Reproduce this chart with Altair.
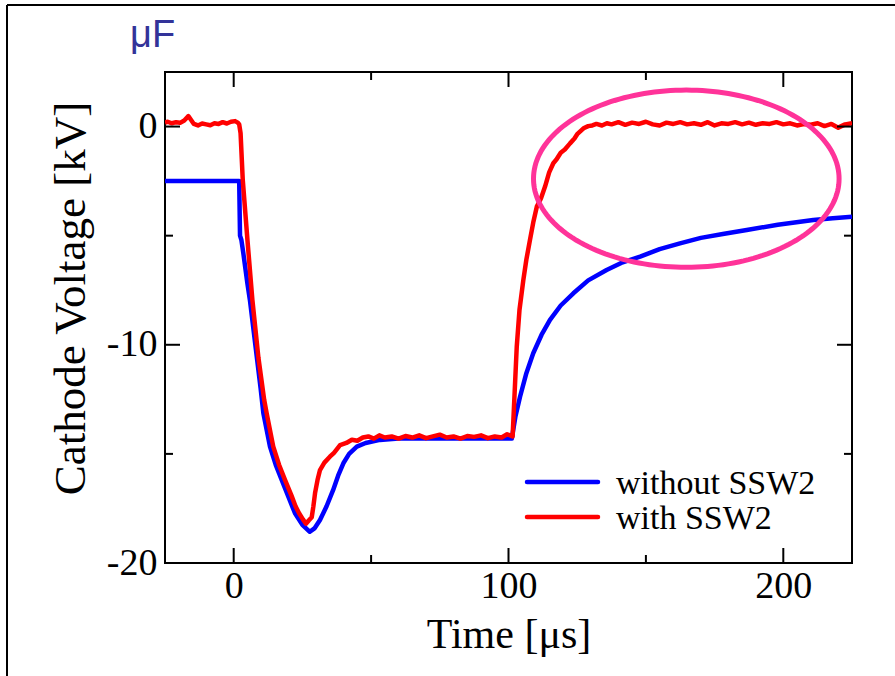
import altair as alt
import pandas as pd
import numpy as np

# ---------------- data ----------------
blue_t = [-25, -10, 2.0, 2.3, 2.8, 3.5, 5.0, 5.9, 8.1, 9.8, 10.8, 13.2, 15.3, 17.5, 20.0, 22.3,
          25.0, 27.7, 29.5, 31.4, 33.8, 36.2, 38.0, 39.9, 42.0, 44.8, 48.0, 53.2, 60.0, 80.0,
          101.2, 102.5, 104.2, 106.5, 109.0, 112.0, 115.1, 119.0, 123.6, 129.0, 135.7, 141.0,
          147.9, 155.0, 162.4, 170.0, 178.0, 186.7, 198.0, 210.9, 218.0, 225.0]
blue_v = [-2.5, -2.5, -2.5, -5.0, -5.2, -5.8, -7.2, -7.95, -10.24, -12.0, -13.14, -14.67, -15.5,
          -16.2, -17.0, -17.72, -18.25, -18.57, -18.4, -18.03, -17.4, -16.65, -16.0, -15.43,
          -15.0, -14.67, -14.5, -14.36, -14.3, -14.3,
          -14.3, -13.3, -12.38, -11.3, -10.39, -9.55, -8.86, -8.2, -7.64, -7.05, -6.57, -6.25,
          -5.96, -5.62, -5.35, -5.1, -4.92, -4.74, -4.5, -4.28, -4.2, -4.13]

red_t = [-25, -24, -22.5, -21, -19.5, -18, -16.5, -15.5, -14.5, -13, -11.5, -10, -8.5, -7, -5.5,
         -4, -2.5, -1, 0.5, 1.5, 2.0,
         2.5, 3.3, 5.0, 6.8, 9.0, 11.1, 12.0, 14.4, 16.5, 18.7, 21.0, 22.5, 23.8, 25.2, 26.3,
         27.3, 28.4, 29.0, 29.6, 30.5, 31.4, 33.0, 35.0, 36.5, 38.7, 41.0, 43.0, 45.0, 47.0,
         49, 51, 53, 55, 57.5, 60, 62.5, 65, 67.5, 70, 72.5, 75, 77.5, 80, 82.5, 85, 87.5, 90,
         92.5, 95, 97.5, 99.5, 101.5,
         103, 104, 105.4, 106.5, 107.8, 109, 110.3, 111.8, 113.3, 114.8, 116.3, 117.5, 119,
         120.5, 122.4, 124, 125, 126.3, 127.3, 129, 130.5, 132, 134, 135.8,
         137.5, 140, 142.5, 145, 147.5, 150, 152.5, 155, 157.5, 160, 162.5, 165, 167.5, 170,
         172.5, 175, 177.5, 180, 182.5, 185, 187.5, 190, 192.5, 195, 197.5, 200, 202.5, 205,
         207.5, 210, 212.5, 215, 217.5, 220, 222.5, 225]
red_v = [0.18, 0.22, 0.15, 0.2, 0.17, 0.28, 0.48, 0.3, 0.12, 0.05, 0.14, 0.1, 0.06, 0.15, 0.12,
         0.2, 0.14, 0.22, 0.25, 0.18, 0.1,
         -0.3, -2.45, -5.2, -7.95, -10.6, -12.53, -13.14, -14.67, -15.5, -16.2, -16.9, -17.4,
         -17.72, -18.0, -18.2, -18.05, -17.9, -17.4, -16.8, -16.2, -15.74, -15.4, -15.13, -14.95,
         -14.6, -14.5, -14.35, -14.4, -14.25,
         -14.2, -14.3, -14.15, -14.25, -14.2, -14.3, -14.18, -14.25, -14.15, -14.28, -14.2,
         -14.12, -14.25, -14.2, -14.3, -14.18, -14.22, -14.15, -14.28, -14.2, -14.25, -14.1,
         -14.2,
         -10.09, -8.4, -7.03, -6.1, -5.2, -4.4, -3.67, -3.3, -2.75, -2.1, -1.68, -1.5, -1.2,
         -1.05, -0.77, -0.55, -0.35, -0.2, -0.08, 0.02, 0.05, 0.12, 0.05, 0.15,
         0.1, 0.2, 0.08, 0.18, 0.12, 0.22, 0.1, 0.05, 0.18, 0.12, 0.2, 0.1, 0.15, 0.08, 0.2,
         0.05, 0.15, 0.12, 0.2, 0.1, 0.18, 0.08, 0.15, 0.12, 0.2, 0.1, 0.15, 0.05, 0.12, 0.08,
         0.15, 0.02, 0.12, -0.05, 0.1, 0.15]

series_names = ["without SSW2", "with SSW2"]
series_colors = ["#0000FF", "#FF0000"]

x_major = [0, 100, 200]
x_minor = [50, 150]
y_major = [0, -10, -20]
y_minor = [-5, -15]

# highlight ellipse (centre and radii in data units)
ell_cx, ell_cy, ell_rx, ell_ry = 164.7, -2.39, 55.6, 4.06

# ---------------- layout ----------------
W, H = 687, 491
PAD_L, PAD_T = 165, 72
MAJ, MIN = 15, 8
SERIF = "Liberation Serif"

xs = alt.Scale(domain=[-25, 225], nice=False, zero=False)
ys = alt.Scale(domain=[-20, 2.5], nice=False, zero=False)

x_axis = alt.Axis(values=x_major, ticks=False, domain=False, grid=False,
                  labelFont=SERIF, labelFontSize=38, labelColor="black",
                  labelPadding=4, title="Time [μs]", titleFont=SERIF,
                  titleFontSize=42, titleFontWeight="normal", titleColor="black",
                  titlePadding=9, labelExpr="'' + datum.value")
y_axis = alt.Axis(values=y_major, ticks=False, domain=False, grid=False,
                  labelFont=SERIF, labelFontSize=38, labelColor="black",
                  labelPadding=8, title="Cathode Voltage [kV]", titleFont=SERIF,
                  titleFontSize=45, titleFontWeight="normal", titleColor="black",
                  titleBaseline="alphabetic", titleX=-81, titleY=226,
                  labelExpr="'' + datum.value")

X = lambda f: alt.X(f, scale=xs, axis=x_axis, title="Time [μs]")
Y = lambda f: alt.Y(f, scale=ys, axis=y_axis, title="Cathode Voltage [kV]")

blue_df = pd.DataFrame({"t": blue_t, "v": blue_v})
red_df = pd.DataFrame({"t": red_t, "v": red_v})

blue = alt.Chart(blue_df).mark_line(color=series_colors[0], strokeWidth=4.5, clip=True,
                                    strokeJoin="round").encode(
    x=X("t:Q"), y=Y("v:Q"), order="t:Q")

red = alt.Chart(red_df).mark_line(color=series_colors[1], strokeWidth=4.5, clip=True,
                                  strokeJoin="round").encode(
    x=X("t:Q"), y=Y("v:Q"), order="t:Q")

ang = np.linspace(0, 2 * np.pi, 181)
ell_df = pd.DataFrame({"t": ell_cx + ell_rx * np.cos(ang),
                       "v": ell_cy + ell_ry * np.sin(ang),
                       "i": np.arange(len(ang))})
ellipse = alt.Chart(ell_df).mark_line(color="#FF3399", strokeWidth=5).encode(
    x=X("t:Q"), y=Y("v:Q"), order="i:Q")

# ticks drawn inside the frame
def xticks(vals, length):
    df = pd.DataFrame({"t": vals})
    bot = alt.Chart(df).mark_rule(color="black", strokeWidth=2).encode(
        x=X("t:Q"), y=alt.value(H), y2=alt.value(H - length))
    top = alt.Chart(df).mark_rule(color="black", strokeWidth=2).encode(
        x=X("t:Q"), y=alt.value(0), y2=alt.value(length))
    return [bot, top]

def yticks(vals, length):
    df = pd.DataFrame({"v": vals})
    lef = alt.Chart(df).mark_rule(color="black", strokeWidth=2).encode(
        y=Y("v:Q"), x=alt.value(0), x2=alt.value(length))
    rig = alt.Chart(df).mark_rule(color="black", strokeWidth=2).encode(
        y=Y("v:Q"), x=alt.value(W), x2=alt.value(W - length))
    return [lef, rig]

tick_layers = xticks(x_major, MAJ) + xticks(x_minor, MIN) + yticks(y_major, MAJ) + yticks(y_minor, MIN)

# legend (manual, inside plot)
leg_layers = []
for k, (name, col) in enumerate(zip(series_names, series_colors)):
    yy = 410 + 35 * k
    d = pd.DataFrame({"label": [name]})
    leg_layers.append(alt.Chart(d).mark_rule(color=col, strokeWidth=4.5, strokeCap="round").encode(
        x=alt.value(362), x2=alt.value(433), y=alt.value(yy)))
    leg_layers.append(alt.Chart(d).mark_text(align="left", baseline="alphabetic", font=SERIF,
                                             fontSize=34, color="black").encode(
        x=alt.value(451), y=alt.value(yy + 12), text="label:N"))

# outer frame (top and left edges) and the unit note
frame_df = pd.DataFrame({"k": [0]})
frame_left = alt.Chart(frame_df).mark_rule(color="black", strokeWidth=2).encode(
    x=alt.value(7 - PAD_L), y=alt.value(5 - PAD_T), y2=alt.value(H + 200))
frame_top = alt.Chart(frame_df).mark_rule(color="black", strokeWidth=2).encode(
    x=alt.value(7 - PAD_L), x2=alt.value(W + 100), y=alt.value(5 - PAD_T))
note = alt.Chart(pd.DataFrame({"txt": ["μF"]})).mark_text(
    align="left", baseline="alphabetic", font="Liberation Sans", fontSize=38,
    color="#333399").encode(x=alt.value(130 - PAD_L), y=alt.value(47 - PAD_T), text="txt:N")

chart = alt.layer(blue, red, ellipse, *tick_layers, *leg_layers, frame_left, frame_top, note).properties(
    width=W, height=H,
    padding={"left": PAD_L, "top": PAD_T, "right": 895 - PAD_L - W, "bottom": 676 - PAD_T - H},
    autosize=alt.AutoSizeParams(type="none"),
    background="white",
).configure_view(stroke="black", strokeWidth=2)

chart.save("out.html", embed_options={"renderer": "svg", "actions": False})
